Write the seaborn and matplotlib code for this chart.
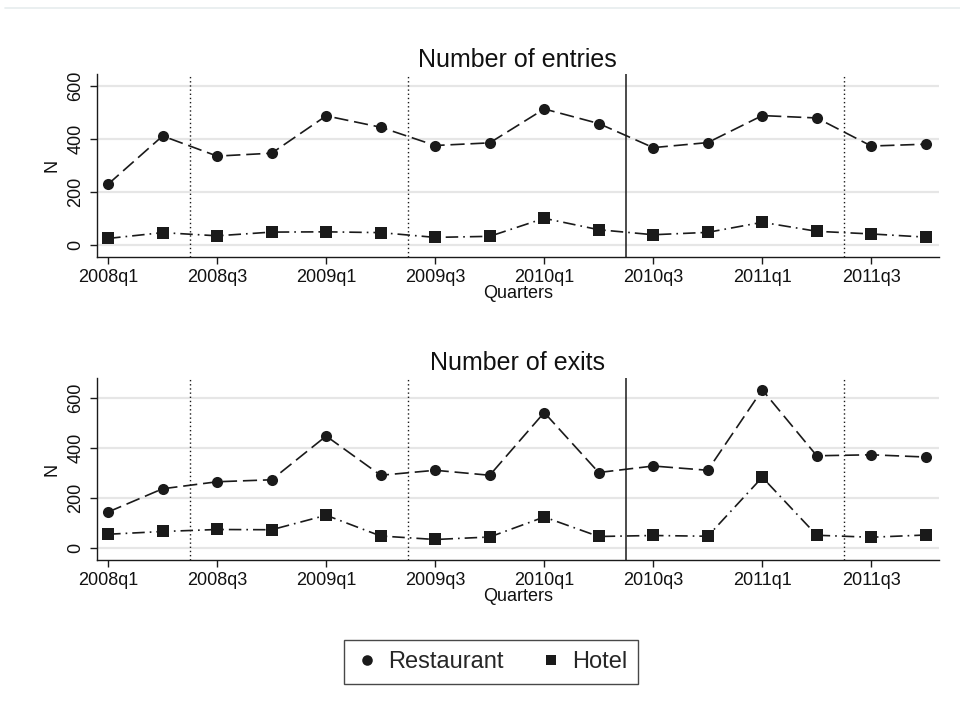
import matplotlib
matplotlib.use("Agg")
import matplotlib.pyplot as plt
from matplotlib.lines import Line2D
import seaborn as sns
import pandas as pd

quarters = ["2008q1", "2008q2", "2008q3", "2008q4",
            "2009q1", "2009q2", "2009q3", "2009q4",
            "2010q1", "2010q2", "2010q3", "2010q4",
            "2011q1", "2011q2", "2011q3", "2011q4"]

entries_restaurant = [230, 412, 336, 347, 488, 445, 376, 386,
                      514, 459, 368, 387, 489, 480, 374, 381]
entries_hotel = [25, 47, 35, 49, 50, 47, 29, 33,
                 101, 58, 39, 48, 86, 52, 42, 30]

exits_restaurant = [145, 238, 266, 274, 449, 292, 312, 292,
                    543, 303, 329, 312, 634, 370, 374, 365]
exits_hotel = [56, 67, 75, 74, 132, 49, 35, 45,
               125, 47, 51, 48, 284, 52, 44, 53]

# reference lines between quarters (dotted) and the policy break (solid)
dotted_breaks = [1.5, 5.5, 13.5]
solid_breaks = [9.5]

sectors = ["Restaurant", "Hotel"]
ink = "#1a1a1a"

sns.set_theme(style="white")
plt.rcParams["font.family"] = ["Liberation Sans", "DejaVu Sans"]

fig = plt.figure(figsize=(9.6, 7.02), dpi=100)
ax_top = fig.add_axes([0.1007, 0.6343, 0.8773, 0.2599])
ax_bot = fig.add_axes([0.1007, 0.2023, 0.8773, 0.2588])


def long_frame(rest, hotel):
    idx = list(range(len(quarters)))
    return pd.DataFrame({
        "t": idx + idx,
        "N": list(rest) + list(hotel),
        "Sector": ["Restaurant"] * len(rest) + ["Hotel"] * len(hotel),
    })


def draw_panel(ax, df, title, ylim, title_pad):
    for v in dotted_breaks:
        ax.axvline(v, color=ink, lw=1.0, ls=(0, (1, 2)), zorder=1)
    for v in solid_breaks:
        ax.axvline(v, color=ink, lw=1.1, zorder=1)
    sns.lineplot(data=df, x="t", y="N", hue="Sector", style="Sector",
                 hue_order=sectors, style_order=sectors,
                 palette={"Restaurant": ink, "Hotel": ink},
                 markers={"Restaurant": "o", "Hotel": "s"},
                 dashes={"Restaurant": (8.5, 3.5), "Hotel": (7.5, 3, 1, 3)},
                 markersize=8, markeredgewidth=0, linewidth=1.2,
                 legend=False, ax=ax, zorder=3)
    ax.set_xlim(-0.21, 15.24)
    ax.set_ylim(*ylim)
    ax.set_yticks([0, 200, 400, 600])
    ax.set_yticklabels(["0", "200", "400", "600"], rotation=90, va="center",
                       fontsize=13)
    ax.set_xticks(range(0, len(quarters), 2))
    ax.set_xticklabels(quarters[::2], fontsize=13)
    ax.grid(axis="y", color="#e6e6e6", lw=1.6, zorder=0)
    ax.grid(axis="x", visible=False)
    for side in ["top", "right"]:
        ax.spines[side].set_visible(False)
    for side in ["left", "bottom"]:
        ax.spines[side].set_color(ink)
        ax.spines[side].set_linewidth(1.0)
    ax.tick_params(axis="both", direction="out", length=5, width=1.0,
                   color=ink, pad=4, labelcolor="#111111",
                   bottom=True, left=True)
    ax.set_xlabel("Quarters", fontsize=13, labelpad=-1, color="#111111")
    ax.set_ylabel("N", fontsize=13, labelpad=5, color="#111111")
    ax.set_title(title, fontsize=18, pad=title_pad, color="#111111")


draw_panel(ax_top, long_frame(entries_restaurant, entries_hotel),
           "Number of entries", (-44, 645), 5)
draw_panel(ax_bot, long_frame(exits_restaurant, exits_hotel),
           "Number of exits", (-47, 680), 6)

handles = [
    Line2D([], [], color=ink, marker="o", linestyle="none", markersize=7.6,
           markeredgewidth=0, label="Restaurant"),
    Line2D([], [], color=ink, marker="s", linestyle="none", markersize=7.0,
           markeredgewidth=0, label="Hotel"),
]
leg = fig.legend(handles=handles, loc="center", bbox_to_anchor=(0.5115, 0.057),
                 ncol=2, fontsize=17, frameon=True, fancybox=False,
                 handletextpad=0.4, columnspacing=1.5, handlelength=1.0,
                 borderpad=0.45, borderaxespad=0)
leg.get_frame().set_edgecolor(ink)
leg.get_frame().set_linewidth(1.0)

# faint rule along the top edge
fig.add_artist(Line2D([0.005, 1.0], [1 - 8 / 702, 1 - 8 / 702],
                      transform=fig.transFigure, color="#e6ecee", lw=1.2))

fig.savefig("out.png", dpi=100, facecolor="white")
